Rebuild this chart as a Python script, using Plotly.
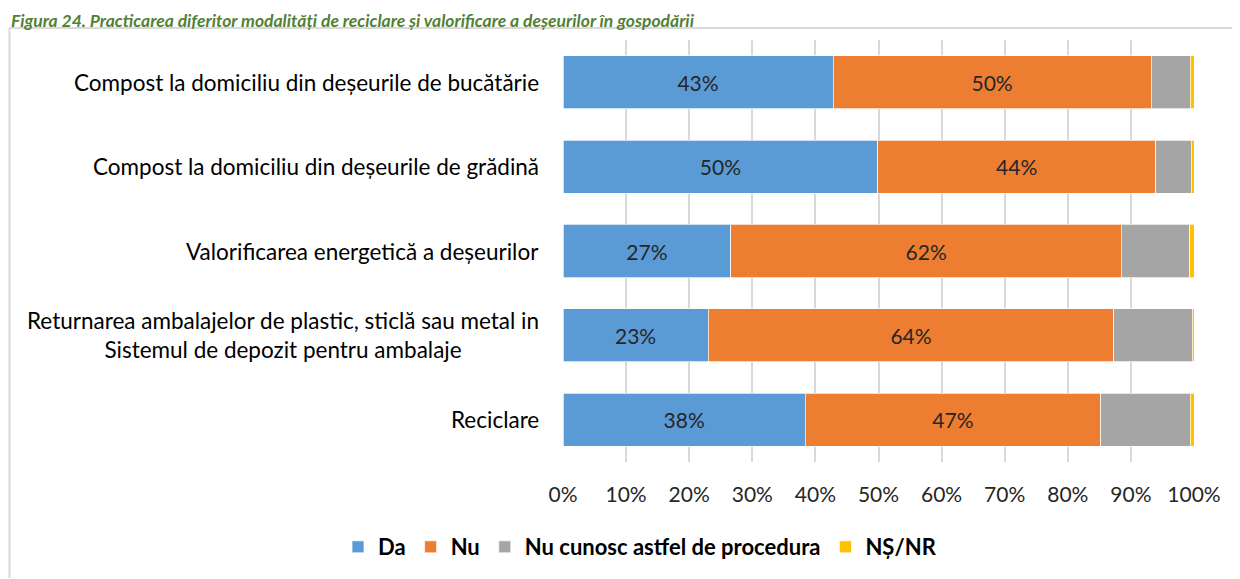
import plotly.graph_objects as go

categories = [
    "Compost la domiciliu din deșeurile de bucătărie",
    "Compost la domiciliu din deșeurile de grădină",
    "Valorificarea energetică a deșeurilor",
    "Returnarea ambalajelor de plastic, sticlă sau metal in<br>Sistemul de depozit pentru ambalaje",
    "Reciclare",
]
da = [42.8, 49.9, 26.6, 23.0, 38.4]
nu = [50.4, 44.0, 61.9, 64.3, 46.8]
nu_cunosc = [6.2, 5.7, 10.8, 12.4, 14.2]
ns_nr = [0.6, 0.4, 0.7, 0.3, 0.6]
tick_vals = [0, 10, 20, 30, 40, 50, 60, 70, 80, 90, 100]
tick_labels = ["0%", "10%", "20%", "30%", "40%", "50%", "60%", "70%", "80%", "90%", "100%"]
title = "Figura 24. Practicarea diferitor modalități de reciclare și valorificare a deșeurilor în gospodării"

FONT = "Lato"
TXT = "#262626"

# page has an 8px body margin; work in page pixels and convert
OFF = 8
W, H = 1240 - OFF, 579 - OFF
L, R, T, B = 563 - OFF, 1194 - OFF, 40 - OFF, 462 - OFF

def px(xpage):
    return (xpage - OFF - L) / (R - L)

def py(ypage):
    return (B - (ypage - OFF)) / (B - T)

fig = go.Figure()
series = [
    ("Da", da, "#5B9BD5", True),
    ("Nu", nu, "#ED7D31", True),
    ("Nu cunosc astfel de procedura", nu_cunosc, "#A5A5A5", False),
    ("NȘ/NR", ns_nr, "#FFC000", False),
]
for name, vals, col, lab in series:
    fig.add_trace(go.Bar(
        y=categories, x=vals, name=name, orientation="h",
        marker=dict(color=col, line=dict(color="white", width=0.7)),
        text=[f"{round(v)}%" for v in vals] if lab else None,
        textposition="inside" if lab else "none",
        insidetextanchor="middle",
        textfont=dict(family=FONT, size=21, color=TXT),
        hoverinfo="x+name",
    ))

for c in categories:
    fig.add_annotation(
        x=px(541), xref="paper", y=c, yref="y",
        xanchor="right", yanchor="middle", align="center",
        text=c, showarrow=False,
        font=dict(family=FONT, size=22.5, color="#000000"),
    )

# frame (left and top edges; right/bottom lie outside the view)
FRAME = dict(color="#D9D9D9", width=2)
fig.add_shape(type="line", xref="paper", yref="paper",
              x0=px(9.5), x1=px(9.5), y0=py(578), y1=py(28), line=FRAME, layer="below")
fig.add_shape(type="line", xref="paper", yref="paper",
              x0=px(9.5), x1=px(1239), y0=py(28), y1=py(28), line=FRAME, layer="below")

# title
fig.add_annotation(
    x=px(9), xref="paper", y=py(OFF), yref="paper",
    xanchor="left", yanchor="top", showarrow=False,
    text=f"<b><i>{title}</i></b>",
    font=dict(family=FONT, size=17.5, color="#538135"),
)

fig.update_layout(
    width=W, height=H,
    margin=dict(l=L, r=W - R, t=T, b=H - B, autoexpand=False),
    barmode="stack", bargap=0.37,
    plot_bgcolor="white", paper_bgcolor="white",
    showlegend=True,
    legend=dict(orientation="h", x=px(640), xanchor="center", y=py(547), yanchor="middle",
                font=dict(family=FONT, size=22, color="#000000", weight="bold"),
                itemwidth=30, traceorder="normal"),
    uniformtext=dict(mode="show", minsize=10),
)
fig.update_xaxes(range=[0, 100], tickmode="array", tickvals=tick_vals, ticktext=tick_labels,
                 showgrid=True, gridcolor="#D9D9D9", gridwidth=2,
                 zeroline=False, showline=False,
                 tickfont=dict(family=FONT, size=21, color=TXT),
                 ticks="", ticklabelstandoff=18, fixedrange=True)
fig.update_yaxes(autorange="reversed", showticklabels=False, showgrid=False,
                 zeroline=False, showline=False, fixedrange=True)

fig.write_html("out.html")
